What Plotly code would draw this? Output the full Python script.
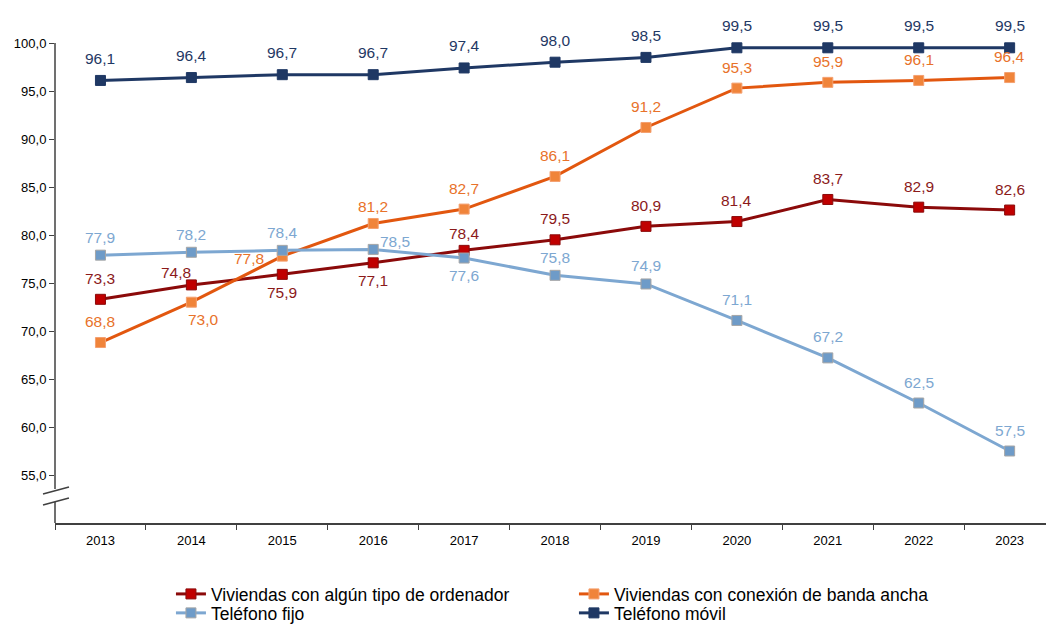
import plotly.graph_objects as go

years = ["2013", "2014", "2015", "2016", "2017", "2018", "2019", "2020", "2021", "2022", "2023"]
ordenador = [73.3, 74.8, 75.9, 77.1, 78.4, 79.5, 80.9, 81.4, 83.7, 82.9, 82.6]
banda_ancha = [68.8, 73.0, 77.8, 81.2, 82.7, 86.1, 91.2, 95.3, 95.9, 96.1, 96.4]
fijo = [77.9, 78.2, 78.4, 78.5, 77.6, 75.8, 74.9, 71.1, 67.2, 62.5, 57.5]
movil = [96.1, 96.4, 96.7, 96.7, 97.4, 98.0, 98.5, 99.5, 99.5, 99.5, 99.5]

names = ["Viviendas con algún tipo de ordenador", "Viviendas con conexión de banda ancha",
         "Teléfono fijo", "Teléfono móvil"]
series = [ordenador, banda_ancha, fijo, movil]

# styles
line_colors = ["#8B0A0A", "#E2570F", "#7DA7D1", "#1F3864"]
marker_fill = ["#C00000", "#F0843A", "#6E9BC8", "#1F3864"]
marker_line = ["#8B0A0A", "#F4A070", "#A6A6A6", "#1F3864"]
label_colors = ["#8B1A1A", "#E8722A", "#7DA7D1", "#1F3864"]
legend_ids = ["legend", "legend", "legend2", "legend2"]

UP = (0, 21)
DOWN = (0, -18)
# label offsets (xshift, yshift) per series per point
offsets = [
    [UP, (-15, 12), DOWN, DOWN, (0, 17), UP, UP, UP, UP, UP, UP],
    [UP, (12, -17), (-33, -2), (0, 17), UP, UP, UP, UP, UP, UP, UP],
    [(0, 18), (0, 18), (0, 18), (22, 8), (0, -17), (0, 18), (0, 18), UP, UP, UP, UP],
    [(0, 22)] * 11,
]

FONT = "Liberation Sans, Arial, sans-serif"

fig = go.Figure()
for i, (nm, vals) in enumerate(zip(names, series)):
    fig.add_trace(go.Scatter(
        x=years, y=vals, name=nm, mode="lines+markers",
        line=dict(color=line_colors[i], width=3),
        marker=dict(symbol="square", size=10, color=marker_fill[i],
                    line=dict(color=marker_line[i], width=1)),
        cliponaxis=False, legend=legend_ids[i],
    ))

for i, vals in enumerate(series):
    for j, v in enumerate(vals):
        xs, ys = offsets[i][j]
        fig.add_annotation(
            x=j, y=v, xref="x", yref="y",
            text=f"{v:.1f}".replace(".", ","), showarrow=False,
            xshift=xs, yshift=ys,
            font=dict(family=FONT, size=15.5, color=label_colors[i]),
        )

# axis break and y axis line (drawn as shapes)
axis_col = "#404040"
for (x0, x1, y0, y1) in [(0, 0, 1, 0.071), (0, 0, 0.044, 0),
                         (-0.0121, 0.0141, 0.0604, 0.075), (-0.0121, 0.0141, 0.0375, 0.052)]:
    fig.add_shape(type="line", xref="paper", yref="paper", x0=x0, x1=x1, y0=y0, y1=y1,
                  line=dict(color=axis_col, width=1.5))

leg_common = dict(orientation="h", x=0.117, xanchor="left", yanchor="middle",
                  entrywidth=358, entrywidthmode="pixels",
                  font=dict(family=FONT, size=17.5, color="#000000"),
                  tracegroupgap=0, itemwidth=30, bgcolor="rgba(0,0,0,0)")

fig.update_layout(
    width=1046, height=624,
    margin=dict(l=55, r=0, t=43, b=101, autoexpand=False),
    paper_bgcolor="white", plot_bgcolor="white",
    separators=",.",
    font=dict(family=FONT, size=13, color="#000000"),
    showlegend=True,
    legend=dict(y=-0.148, **leg_common),
    legend2=dict(y=-0.1875, **leg_common),
)
fig.update_xaxes(
    type="category", range=[-0.5, 10.4], showgrid=False, zeroline=False,
    showline=True, linecolor=axis_col, linewidth=1.5, automargin=False,
    ticks="outside", ticklen=5, tickcolor=axis_col, tickson="boundaries",
    ticklabelstandoff=5,
    tickfont=dict(size=13, color="#000000"),
)
fig.update_yaxes(
    range=[50, 100], showgrid=False, zeroline=False, showline=False, automargin=False,
    tickmode="array", tickvals=[55, 60, 65, 70, 75, 80, 85, 90, 95, 100],
    tickformat=".1f",
    ticks="outside", ticklen=5, tickcolor=axis_col,
    tickfont=dict(size=13, color="#000000"),
)

fig.write_html("out.html", config={"displayModeBar": False},
               post_script="document.body.style.margin='0';document.body.style.overflow='hidden';")
